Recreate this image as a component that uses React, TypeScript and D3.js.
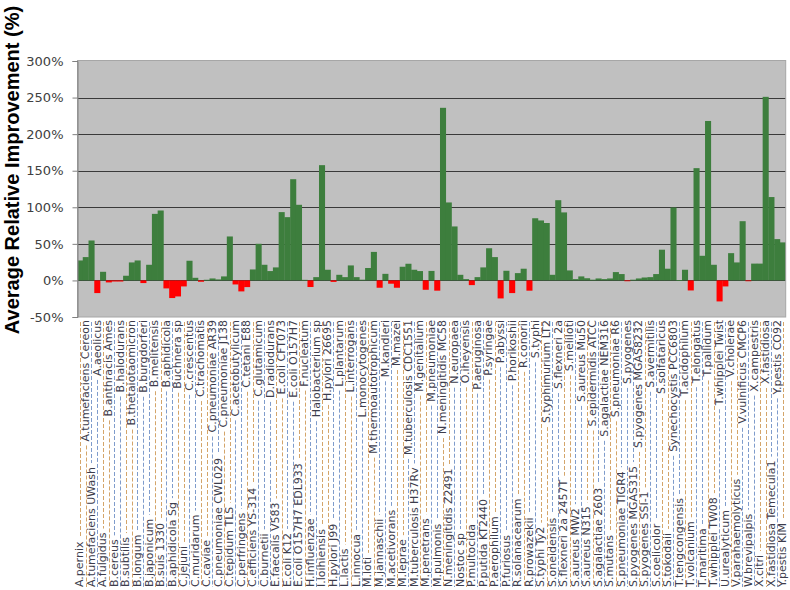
import React, { useEffect, useRef } from "react";
import * as d3 from "d3";

const categories: string[] = [
  "A.pernix", "A.tumefaciens Cereon", "A.tumefaciens UWash", "A.aeolicus", "A.fulgidus",
  "B.anthracis Ames", "B.cereus", "B.halodurans", "B.subtilis", "B.thetaiotaomicron",
  "B.longum", "B.burgdorferi", "B.japonicum", "B.melitensis", "B.suis 1330",
  "B.aphidicola", "B.aphidicola Sg", "Buchnera sp", "C.jejuni", "C.crescentus",
  "C.muridarum", "C.trachomatis", "C.caviae", "C.pneumoniae AR39", "C.pneumoniae CWL029",
  "C.pneumoniae J138", "C.tepidum TLS", "C.acetobutylicum", "C.perfringens", "C.tetani E88",
  "C.efficiens YS-314", "C.glutamicum", "C.burnetii", "D.radiodurans", "E.faecalis V583",
  "E.coli CFT073", "E.coli K12", "E.coli O157H7", "E.coli O157H7 EDL933", "F.nucleatum",
  "H.influenzae", "Halobacterium sp", "I.loihiensis", "H.pylori 26695", "H.pylori J99",
  "L.plantarum", "L.lactis", "L.interrogans", "L.innocua", "L.monocytogenes",
  "M.loti", "M.thermoautotrophicum", "M.jannaschii", "M.kandleri", "M.acetivorans",
  "M.mazei", "M.leprae", "M.tuberculosis CDC1551", "M.tuberculosis H37Rv", "M.genitalium",
  "M.penetrans", "M.pneumoniae", "M.pulmonis", "N.meningitidis MC58", "N.meningitidis Z2491",
  "N.europaea", "Nostoc sp", "O.iheyensis", "P.multocida", "P.aeruginosa",
  "P.putida KT2440", "P.syringae", "P.aerophilum", "P.abyssi", "P.furiosus",
  "P.horikoshii", "R.solanacearum", "R.conorii", "R.prowazekii", "S.typhi",
  "S.typhi Ty2", "S.typhimurium LT2", "S.oneidensis", "S.flexneri 2a", "S.flexneri 2a 2457T",
  "S.meliloti", "S.aureus MW2", "S.aureus Mu50", "S.aureus N315", "S.epidermidis ATCC",
  "S.agalactiae 2603", "S.agalactiae NEM316", "S.mutans", "S.pneumoniae R6", "S.pneumoniae TIGR4",
  "S.pyogenes", "S.pyogenes MGAS315", "S.pyogenes MGAS8232", "S.pyogenes SSI-1", "S.avermitilis",
  "S.coelicolor", "S.solfataricus", "S.tokodaii", "Synechocystis PCC6803", "T.tengcongensis",
  "T.acidophilum", "T.volcanium", "T.elongatus", "T.maritima", "T.pallidum",
  "T.whipplei TW08", "T.whipplei Twist", "U.urealyticum", "V.cholerae", "V.parahaemolyticus",
  "V.vulnificus CMCP6", "W.brevipalpis", "X.campestris", "X.citri", "X.fastidiosa",
  "X.fastidiosa Temecula1", "Y.pestis CO92", "Y.pestis KIM",
];

const improvement: number[] = [
  27.3, 31.9, 54.6, -17.3, 11.8, -2.7, -1.5, -1.5, 6.4, 24.6,
  27.3, -3.6, 21.4, 91, 95.6, -10.9, -24.1, -21.9, -8.2, 26.9,
  3.6, -1.8, 0.9, 2.7, 1.4, 5.5, 60.1, -5.5, -15, -9.1,
  15, 50.1, 21.4, 12.8, 17.8, 93.4, 86.5, 138.4, 103.4, 0.8,
  -9, 4.5, 157.6, 14.6, -2, 7.7, 4.5, 20.5, 4.5, 1,
  17, 39, -10, 9, -4.5, -10, 18.7, 22.8, 14.6, 12.8,
  -12.8, 13, -14, 236, 106.6, 73.8, 7.7, 1.8, -6.4, 4.5,
  17.8, 44, 31.9, -24.6, 13.2, -17.3, 10, 16, -14, 85,
  82, 78.5, 7.7, 109.7, 93, 13.7, 1.8, 5.5, 3, 1,
  2.7, 1.8, 2.7, 11.4, 8.7, -1, 1, 2.7, 4, 4.5,
  8.7, 42, 16, 99.7, 0.5, 14.6, -13.7, 153.5, 33.7, 218,
  21.4, -28.7, -8.2, 37.3, 24.6, 81, -1, 23, 23, 251,
  114, 56.5, 52,
];

const yTicks: number[] = [-50, 0, 50, 100, 150, 200, 250, 300];

const W = 790;
const H = 590;

export default function App() {
  const ref = useRef<SVGSVGElement | null>(null);

  useEffect(() => {
    const svg = d3.select(ref.current);
    svg.selectAll("*").remove();

    const left = 77, right = 785.7, top = 61, bottom = 317;
    const x = d3.scaleBand<string>().domain(categories).range([left, right]).padding(0);
    const y = d3.scaleLinear().domain([-50, 300]).range([bottom, top]);

    svg.append("rect")
      .attr("x", left).attr("y", top)
      .attr("width", right - left).attr("height", bottom - top)
      .attr("fill", "#c0c0c0");

    svg.append("g").selectAll("line")
      .data(yTicks.filter((t) => t > -50 && t < 300))
      .join("line")
      .attr("x1", left).attr("x2", right)
      .attr("y1", (d) => Math.round(y(d)) + 0.5).attr("y2", (d) => Math.round(y(d)) + 0.5)
      .attr("stroke", "#3a3a3a").attr("stroke-width", 1);

    svg.append("g").selectAll("rect")
      .data(categories.map((c, i) => ({ c, v: improvement[i] })))
      .join("rect")
      .attr("x", (d) => x(d.c)!)
      .attr("width", x.bandwidth() + 0.3)
      .attr("y", (d) => Math.min(y(d.v), y(0)))
      .attr("height", (d) => Math.max(0.8, Math.abs(y(d.v) - y(0))))
      .attr("fill", (d) => (d.v >= 0 ? "#3d7e3d" : "#ff0000"));

    svg.append("rect")
      .attr("x", left + 0.5).attr("y", top - 0.5)
      .attr("width", right - left - 0.5).attr("height", bottom - top + 0.5)
      .attr("fill", "none").attr("stroke", "#a6a6a6").attr("stroke-width", 1);

    const yAxis = d3.axisLeft(y).tickValues(yTicks).tickSize(5).tickPadding(9)
      .tickFormat((d) => `${d}%`);
    const ga = svg.append("g").attr("transform", `translate(${left + 0.5},0)`).call(yAxis);
    ga.select(".domain").attr("stroke", "#808080");
    ga.selectAll(".tick line").attr("stroke", "#808080");
    ga.selectAll(".tick text")
      .attr("font-family", "DejaVu Sans, Verdana, sans-serif")
      .attr("font-size", 13)
      .attr("fill", "#404040");

    svg.append("text")
      .attr("transform", `translate(19,170) rotate(-90)`)
      .attr("text-anchor", "middle")
      .attr("font-family", "Liberation Sans, Arial, sans-serif")
      .attr("font-weight", "bold")
      .attr("font-size", 20)
      .attr("fill", "#000")
      .text("Average Relative Improvement (%)");

    const labelTop = 320;
    const labelBottom = 587;
    const gl = svg.append("g");
    categories.forEach((c, i) => {
      const cx = x(c)! + x.bandwidth() / 2;
      const high = i % 2 === 1;
      const t = gl.append("text")
        .attr("font-family", "DejaVu Sans, Verdana, sans-serif")
        .attr("font-size", 11)
        .attr("fill", "#3c3c4c")
        .attr("dominant-baseline", "central")
        .attr("text-anchor", high ? "end" : "start")
        .attr("transform", `translate(${cx},${high ? labelTop : labelBottom}) rotate(-90)`)
        .text(c);
      const len = (t.node() as SVGTextElement).getComputedTextLength();
      const frac = cx - Math.floor(cx);
      const col = frac < 0.5 ? "#7f9ccc" : "#d4a56a";
      const lx = Math.round(cx) + 0.5;
      let y1: number, y2: number;
      if (high) {
        y1 = labelTop + len + 4;
        y2 = labelBottom;
      } else {
        y1 = labelTop + 2;
        y2 = labelBottom - len - 4;
      }
      gl.append("line")
        .attr("x1", lx).attr("x2", lx)
        .attr("y1", y1).attr("y2", y2)
        .attr("stroke", col).attr("stroke-width", 1)
        .attr("stroke-dasharray", "4,2");
    });
  }, []);

  return (
    <svg
      ref={ref}
      width={W}
      height={H}
      style={{ position: "absolute", left: 0, top: 0, background: "#fff" }}
    />
  );
}
